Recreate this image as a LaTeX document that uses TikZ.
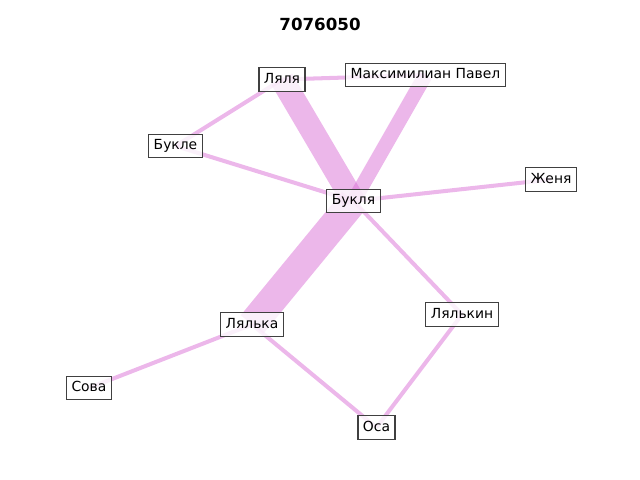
\documentclass[tikz,border=0pt]{standalone}
\usepackage{fontspec}
\setmainfont{DejaVu Sans}
\pgfdeclarelayer{background}
\pgfsetlayers{background,main}
\definecolor{edgepink}{RGB}{218,112,214}
\definecolor{boxline}{RGB}{64,64,64}
\begin{document}
\begin{tikzpicture}[x=0.72pt,y=-0.72pt,
  person/.style={draw=boxline,line width=0.8pt,fill=white,fill opacity=0.8,text opacity=1,
    inner xsep=3.6pt,inner ysep=3.6pt,text height=0.76em,text depth=0.22em,font=\fontsize{10pt}{12pt}\selectfont},
  tie/.style={draw=edgepink,draw opacity=0.5,line width=#1},
  tie/.default=2.9pt]
\useasboundingbox (0,0) rectangle (640,480);
\node[font=\bfseries\fontsize{12pt}{14pt}\selectfont] (title) at (320,24) {7076050};
% people
\node[person] (lyalya) at (282,79.5) {Ляля};
\node[person] (maks) at (425.5,75) {Максимилиан Павел};
\node[person] (bukle) at (175.5,146) {Букле};
\node[person] (buklya) at (353.5,201) {Букля};
\node[person] (zhenya) at (551,179.5) {Женя};
\node[person] (lyalka) at (252,324.5) {Лялька};
\node[person] (lyalkin) at (462,314.5) {Лялькин};
\node[person] (sova) at (89,388) {Сова};
\node[person] (osa) at (376.5,427.5) {Оса};
% ties between them
\begin{pgfonlayer}{background}
\draw[tie=17pt] (lyalya.center) -- (buklya.center);
\draw[tie=10.5pt] (maks.center) -- (buklya.center);
\draw[tie=21pt] (lyalka.center) -- (buklya.center);
\draw[tie] (lyalya.center) -- (maks.center);
\draw[tie] (lyalya.center) -- (bukle.center);
\draw[tie] (bukle.center) -- (buklya.center);
\draw[tie] (buklya.center) -- (zhenya.center);
\draw[tie] (buklya.center) -- (lyalkin.center);
\draw[tie] (lyalkin.center) -- (osa.center);
\draw[tie] (lyalka.center) -- (osa.center);
\draw[tie] (lyalka.center) -- (sova.center);
\end{pgfonlayer}
\end{tikzpicture}
\end{document}
